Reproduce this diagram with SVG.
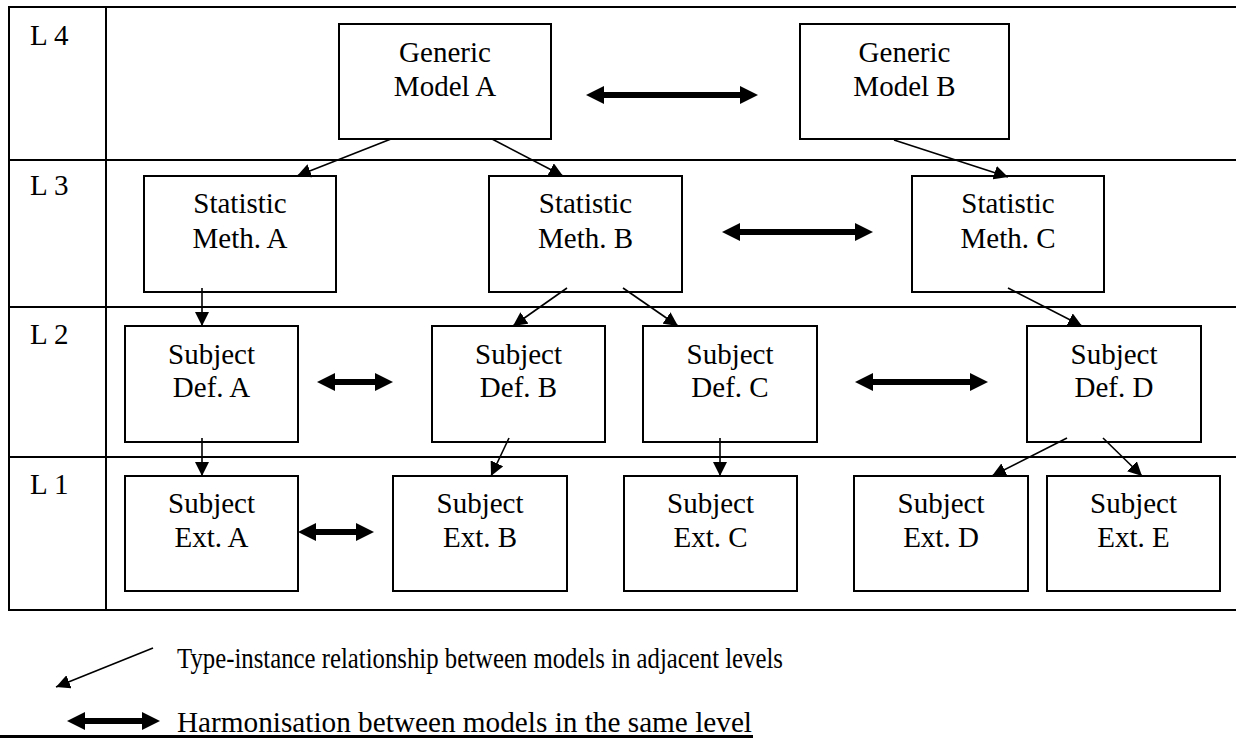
<svg xmlns="http://www.w3.org/2000/svg" width="1236" height="738" viewBox="0 0 1236 738">
  <defs>
    <style>
      .grid { stroke: #000; stroke-width: 2; fill: none; }
      .box { fill: #fff; stroke: #000; stroke-width: 2; }
      .lbl { font-family: "Liberation Serif", "Times New Roman", serif; font-size: 29px; fill: #000; }
      .mid { text-anchor: middle; }
      .thin { stroke: #000; stroke-width: 1.6; fill: none; marker-end: url(#tip); }
      .thick { stroke: #000; stroke-width: 6; fill: none; marker-start: url(#head); marker-end: url(#head); }
    </style>
    <!-- small solid head for type-instance links -->
    <marker id="tip" markerUnits="userSpaceOnUse" markerWidth="14" markerHeight="14" refX="14" refY="7" orient="auto" viewBox="0 0 14 14">
      <path d="M0,0 L14,7 L0,14 z" fill="#000"/>
    </marker>
    <!-- wide head for harmonisation links; attached at the base of the head -->
    <marker id="head" markerUnits="userSpaceOnUse" markerWidth="18" markerHeight="18" refX="0" refY="9" orient="auto-start-reverse" viewBox="0 0 18 18">
      <path d="M0,0 L18,9 L0,18 z" fill="#000"/>
    </marker>
  </defs>

  <rect width="1236" height="738" fill="#fff"/>

  <!-- level table -->
  <g id="table">
    <line class="grid" x1="9" y1="7" x2="1236" y2="7"/>
    <line class="grid" x1="9" y1="160" x2="1236" y2="160"/>
    <line class="grid" x1="9" y1="307" x2="1236" y2="307"/>
    <line class="grid" x1="9" y1="457" x2="1236" y2="457"/>
    <line class="grid" x1="9" y1="610" x2="1236" y2="610"/>
    <line class="grid" x1="9" y1="6" x2="9" y2="611"/>
    <line class="grid" x1="106" y1="6" x2="106" y2="611"/>
    <text class="lbl" x="30" y="45">L 4</text>
    <text class="lbl" x="30" y="195">L 3</text>
    <text class="lbl" x="30" y="344">L 2</text>
    <text class="lbl" x="30" y="494">L 1</text>
  </g>

  <!-- level 4 -->
  <g id="generic-model-a">
    <rect class="box" x="339" y="24" width="212" height="115"/>
    <text class="lbl mid" x="445" y="62">Generic</text>
    <text class="lbl mid" x="445" y="96">Model A</text>
  </g>
  <g id="generic-model-b">
    <rect class="box" x="800" y="24" width="209" height="115"/>
    <text class="lbl mid" x="904.5" y="62">Generic</text>
    <text class="lbl mid" x="904.5" y="96">Model B</text>
  </g>

  <!-- level 3 -->
  <g id="statistic-meth-a">
    <rect class="box" x="144" y="176" width="192" height="116"/>
    <text class="lbl mid" x="240" y="213">Statistic</text>
    <text class="lbl mid" x="240" y="248">Meth. A</text>
  </g>
  <g id="statistic-meth-b">
    <rect class="box" x="489" y="176" width="193" height="116"/>
    <text class="lbl mid" x="585.5" y="213">Statistic</text>
    <text class="lbl mid" x="585.5" y="248">Meth. B</text>
  </g>
  <g id="statistic-meth-c">
    <rect class="box" x="912" y="176" width="192" height="116"/>
    <text class="lbl mid" x="1008" y="213">Statistic</text>
    <text class="lbl mid" x="1008" y="248">Meth. C</text>
  </g>

  <!-- level 2 -->
  <g id="subject-def-a">
    <rect class="box" x="125" y="326" width="173" height="116"/>
    <text class="lbl mid" x="211.5" y="364">Subject</text>
    <text class="lbl mid" x="211.5" y="397">Def. A</text>
  </g>
  <g id="subject-def-b">
    <rect class="box" x="432" y="326" width="173" height="116"/>
    <text class="lbl mid" x="518.5" y="364">Subject</text>
    <text class="lbl mid" x="518.5" y="397">Def. B</text>
  </g>
  <g id="subject-def-c">
    <rect class="box" x="643" y="326" width="174" height="116"/>
    <text class="lbl mid" x="730" y="364">Subject</text>
    <text class="lbl mid" x="730" y="397">Def. C</text>
  </g>
  <g id="subject-def-d">
    <rect class="box" x="1027" y="326" width="174" height="116"/>
    <text class="lbl mid" x="1114" y="364">Subject</text>
    <text class="lbl mid" x="1114" y="397">Def. D</text>
  </g>

  <!-- level 1 -->
  <g id="subject-ext-a">
    <rect class="box" x="125" y="476" width="173" height="115"/>
    <text class="lbl mid" x="211.5" y="513">Subject</text>
    <text class="lbl mid" x="211.5" y="547">Ext. A</text>
  </g>
  <g id="subject-ext-b">
    <rect class="box" x="393" y="476" width="174" height="115"/>
    <text class="lbl mid" x="480" y="513">Subject</text>
    <text class="lbl mid" x="480" y="547">Ext. B</text>
  </g>
  <g id="subject-ext-c">
    <rect class="box" x="624" y="476" width="173" height="115"/>
    <text class="lbl mid" x="710.5" y="513">Subject</text>
    <text class="lbl mid" x="710.5" y="547">Ext. C</text>
  </g>
  <g id="subject-ext-d">
    <rect class="box" x="854" y="476" width="174" height="115"/>
    <text class="lbl mid" x="941" y="513">Subject</text>
    <text class="lbl mid" x="941" y="547">Ext. D</text>
  </g>
  <g id="subject-ext-e">
    <rect class="box" x="1047" y="476" width="173" height="115"/>
    <text class="lbl mid" x="1133.5" y="513">Subject</text>
    <text class="lbl mid" x="1133.5" y="547">Ext. E</text>
  </g>

  <!-- connectors -->
  <g id="connectors">
    <!-- type-instance links -->
    <line class="thin" x1="391" y1="139" x2="297" y2="176"/>
    <line class="thin" x1="492" y1="139" x2="563" y2="176"/>
    <line class="thin" x1="894" y1="140" x2="1008" y2="177"/>
    <line class="thin" x1="202" y1="288" x2="202" y2="326"/>
    <line class="thin" x1="567" y1="288" x2="513" y2="326"/>
    <line class="thin" x1="623" y1="288" x2="678" y2="326"/>
    <line class="thin" x1="1008" y1="288" x2="1082" y2="326"/>
    <line class="thin" x1="202" y1="438" x2="202" y2="476"/>
    <line class="thin" x1="509" y1="438" x2="491" y2="476"/>
    <line class="thin" x1="720" y1="438" x2="720" y2="476"/>
    <line class="thin" x1="1067" y1="438" x2="992" y2="476"/>
    <line class="thin" x1="1103" y1="438" x2="1142" y2="476"/>
    <!-- harmonisation links -->
    <line class="thick" x1="604" y1="95" x2="740" y2="95"/>
    <line class="thick" x1="740" y1="232" x2="855" y2="232"/>
    <line class="thick" x1="335" y1="382" x2="375" y2="382"/>
    <line class="thick" x1="873" y1="382" x2="970" y2="382"/>
    <line class="thick" x1="316" y1="532" x2="356" y2="532"/>
  </g>

  <!-- legend -->
  <g id="legend">
    <line class="thin" x1="153" y1="648" x2="56" y2="687"/>
    <text class="lbl" x="177" y="668" textLength="606" lengthAdjust="spacingAndGlyphs">Type-instance relationship between models in adjacent levels</text>
    <line class="thick" x1="85" y1="721" x2="142" y2="721"/>
    <text class="lbl" x="177" y="732" textLength="575" lengthAdjust="spacingAndGlyphs">Harmonisation between models in the same level</text>
    <line x1="0" y1="736.5" x2="753" y2="736.5" stroke="#000" stroke-width="3"/>
  </g>
</svg>
